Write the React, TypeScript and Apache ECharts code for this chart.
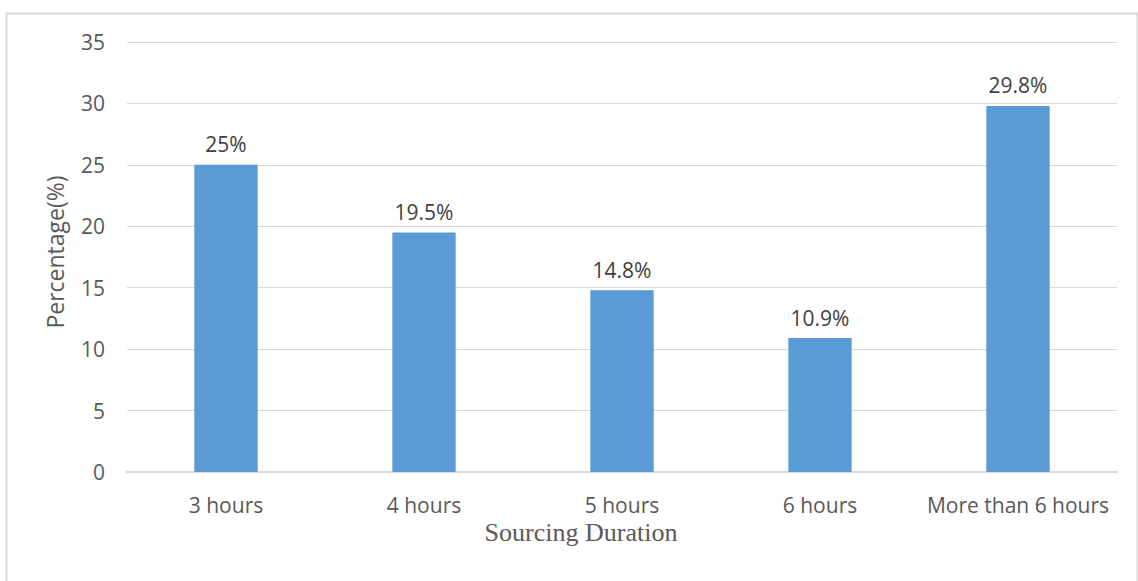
import React, { useEffect, useRef } from "react";
import * as echarts from "echarts";

const categories = ["3 hours", "4 hours", "5 hours", "6 hours", "More than 6 hours"];
const percentages = [25, 19.5, 14.8, 10.9, 29.8];
const labels = ["25%", "19.5%", "14.8%", "10.9%", "29.8%"];

const TEXT = "#595959";
const SANS = "'Open Sans', sans-serif";

export default function App() {
  const ref = useRef<HTMLDivElement>(null);

  useEffect(() => {
    document.body.style.margin = "0";
    if (!ref.current) return;
    const chart = echarts.init(ref.current, undefined, { renderer: "svg" });
    chart.setOption({
      animation: false,
      backgroundColor: "#ffffff",
      graphic: [
        {
          type: "rect",
          shape: { x: 6.5, y: 13.5, width: 1131, height: 600 },
          style: { fill: "none", stroke: "#d9d9d9", lineWidth: 2 },
          silent: true,
        },
      ],
      grid: { left: 127, right: 21, top: 42, bottom: 109 },
      xAxis: {
        type: "category",
        data: categories,
        name: "Sourcing Duration",
        nameLocation: "middle",
        nameGap: 47,
        nameTextStyle: {
          fontFamily: "'Liberation Serif', serif",
          fontSize: 26,
          color: TEXT,
          padding: [0, 82, 0, 0],
        },
        axisLine: { lineStyle: { color: "#d9d9d9", width: 2 } },
        axisTick: { show: false },
        axisLabel: {
          color: TEXT,
          fontFamily: SANS,
          fontSize: 21,
          margin: 22,
          interval: 0,
          hideOverlap: false,
        },
      },
      yAxis: {
        type: "value",
        min: 0,
        max: 35,
        interval: 5,
        name: "Percentage(%)",
        nameLocation: "middle",
        nameRotate: 90,
        nameGap: 61,
        nameTextStyle: { fontFamily: SANS, fontSize: 23, color: TEXT, padding: [0, 0, 0, 10] },
        axisLine: { show: false },
        axisTick: { show: false },
        axisLabel: { color: TEXT, fontFamily: SANS, fontSize: 21, margin: 22 },
        splitLine: { lineStyle: { color: "#d9d9d9", width: 1 } },
      },
      series: [
        {
          type: "bar",
          data: percentages,
          barWidth: "32%",
          itemStyle: { color: "#5b9bd5" },
          label: {
            show: true,
            position: "top",
            distance: 10,
            color: "#404040",
            fontFamily: SANS,
            fontSize: 21,
            formatter: (p: any) => labels[p.dataIndex],
          },
        },
      ],
    });
    return () => chart.dispose();
  }, []);

  return <div ref={ref} style={{ width: 1138, height: 581 }} />;
}
